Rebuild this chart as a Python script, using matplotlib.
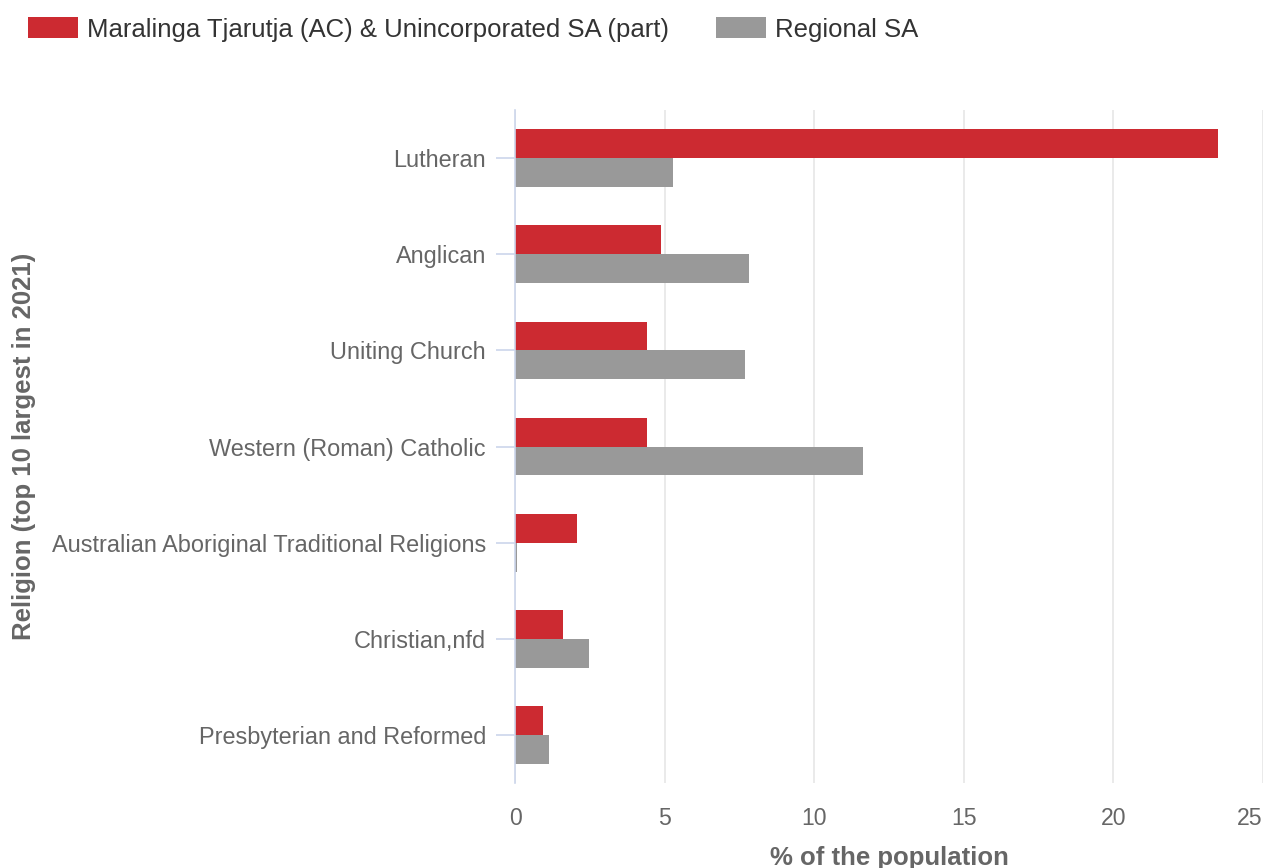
import matplotlib.pyplot as plt
import numpy as np

plt.rcParams['font.family'] = ['Liberation Sans', 'DejaVu Sans']

religions = ['Lutheran', 'Anglican', 'Uniting Church', 'Western (Roman) Catholic',
             'Australian Aboriginal Traditional Religions', 'Christian,nfd',
             'Presbyterian and Reformed']
local_pct = [23.5, 4.88, 4.41, 4.41, 2.07, 1.6, 0.94]
regional_pct = [5.28, 7.83, 7.69, 11.64, 0.06, 2.47, 1.14]
series_names = ['Maralinga Tjarutja (AC) & Unincorporated SA (part)', 'Regional SA']
xticks = [0, 5, 10, 15, 20, 25]

red = '#CC2A31'
grey = '#999999'
text_grey = '#666666'

fig = plt.figure(figsize=(12.66, 8.68), dpi=100)
ax = fig.add_axes([0.4068, 0.0979, 0.5908, 0.7753])

y = np.arange(len(religions))
h = 0.30
ax.barh(y - h / 2, local_pct, height=h, color=red, label=series_names[0])
ax.barh(y + h / 2, regional_pct, height=h, color=grey, label=series_names[1])

ax.set_ylim(len(religions) - 0.5, -0.5)
ax.set_xlim(0, 25)
ax.set_xticks(xticks)
ax.set_yticks(y)
ax.set_yticklabels(religions)

ax.grid(True, axis='x', color='#e6e6e6', linewidth=1.2)
ax.set_axisbelow(True)
for s in ['top', 'right', 'bottom']:
    ax.spines[s].set_visible(False)
ax.spines['left'].set_color('#ccd6eb')
ax.spines['left'].set_linewidth(1.2)

ax.tick_params(axis='y', length=13.7, color='#ccd6eb', width=1.2, pad=7.2,
               labelsize=16.9, labelcolor=text_grey)
ax.tick_params(axis='x', length=0, pad=17, labelsize=16.6, labelcolor=text_grey)
ax.get_xticklabels()[-1].set_ha('right')

ax.set_xlabel('% of the population', fontsize=18.5, fontweight='bold',
              color=text_grey)
ax.xaxis.set_label_coords(0.5, -0.093)
ax.set_ylabel('Religion (top 10 largest in 2021)', fontsize=18.5, fontweight='bold',
              color=text_grey)
ax.yaxis.set_label_coords(-0.640, 0.5)

fig.legend(loc='upper left', bbox_to_anchor=(0.004, 1.007), ncol=2, frameon=False,
           fontsize=18.5, handlelength=1.95, handleheight=0.9, columnspacing=1.8,
           handletextpad=0.35)
for t in fig.legends[0].get_texts():
    t.set_color('#333333')

fig.savefig('out.png', dpi=100, facecolor='white')
